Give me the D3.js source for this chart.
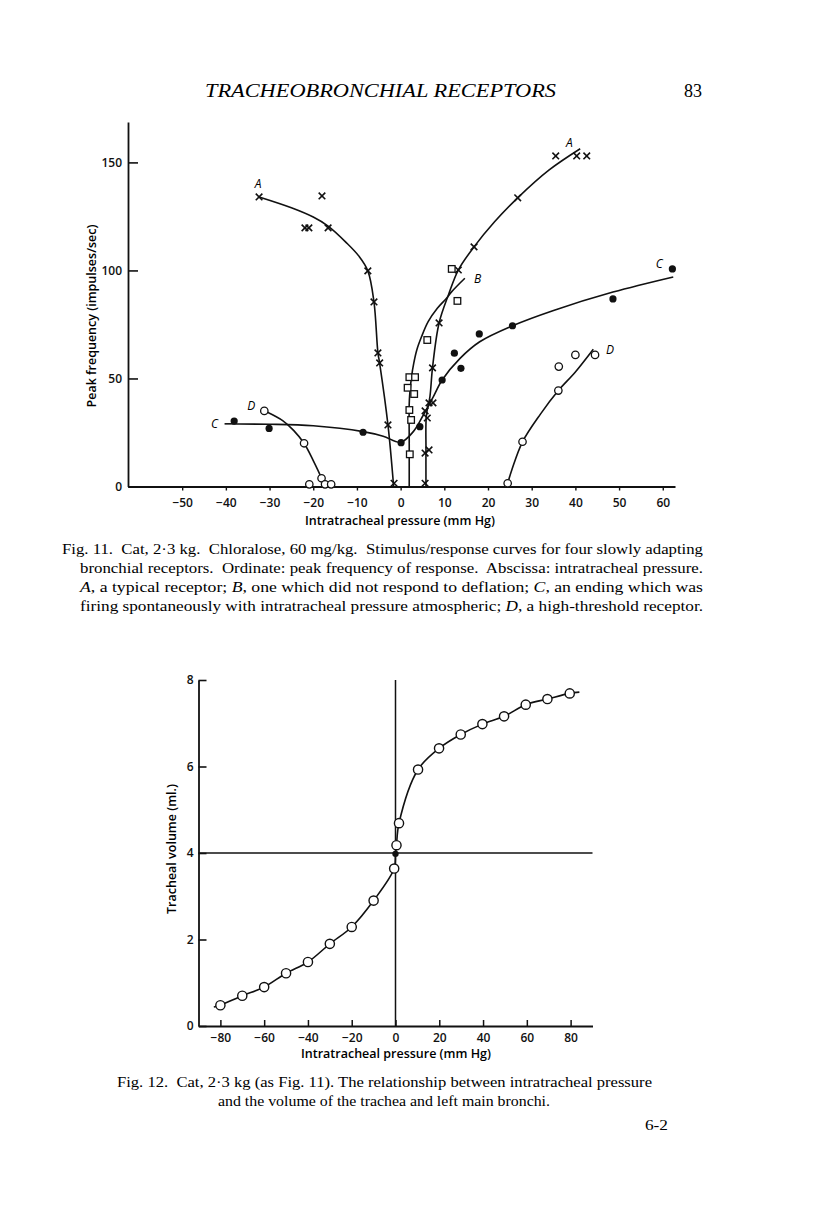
<!DOCTYPE html>
<html>
<head>
<meta charset="utf-8">
<script src="https://cdn.jsdelivr.net/npm/d3@7"></script>
<style>
  body { margin: 0; background: #fff; }
  svg { display: block; }
  .tick text { font-family: "Open Sans", "DejaVu Sans", sans-serif; font-weight: 600; font-size: 12px; fill: #111; }
  .axis path, .axis line { stroke: #111; }
</style>
</head>
<body>
<svg width="816" height="1218"></svg>
<script>
var svg = d3.select("svg");
svg.append("rect").attr("width", 816).attr("height", 1218).attr("fill", "#fff");

// ---- Fig. 11 data (pressure mm Hg, peak frequency impulses/sec)
var aPoints = [[-32.4,134],[-18,134.5],[-21.9,119.7],[-21,119.7],[-16.6,119.7],[-7.5,99.8],[-6.1,85.4],
  [-5.2,61.8],[-4.8,57.2],[-2.9,28.5],[-1.5,1.5],
  [5.6,1.5],[5.6,15.5],[6.5,16.9],[6.1,31.7],[5.6,35],[6.5,38.7],[7.4,38.7],[7.3,54.9],[8.8,75.7],
  [13.2,100.2],[16.8,110.9],[26.8,133.6],[35.5,153],[40.3,153],[42.6,153]];
var bPoints = [[11.7,100.7],[13.0,85.9],[6.1,67.8],[2.0,50.6],[3.3,50.6],[1.6,45.7],[3.1,42.8],[2.0,35.4],[2.4,30.8],[2.1,14.9]];
var cPoints = [[-38.1,30.3],[-30.1,26.9],[-8.6,25.1],[0.1,20.3],[4.4,27.7],[9.5,49.3],[12.3,61.7],[13.8,54.7],
  [18,70.6],[25.6,74.4],[48.6,86.8],[62.2,100.7]];
var dPoints = [[-31.2,35],[-22.1,20],[-18.1,3.8],[-20.9,1],[-17.3,1],[-15.9,1],
  [24.5,1.5],[27.9,20.7],[36.1,44.4],[36.2,55.5],[40,60.9],[44.5,60.9]];

// fitted curves as drawn in the figure
var aLeftCurve = [[-32.4,134],[-25,129],[-20,124.7],[-16.6,120.5],[-12.5,113],[-9.5,106.5],[-7.5,99.8],[-6.1,85.4],[-5.2,62],[-4.8,57],[-2.9,28.5],[-1.6,0]];
var aRightCurve = [[5.8,0],[5.8,17],[5.9,33],[6.7,41.5],[7.3,55],[8.8,75.7],[11,89],[13.2,100.2],[16.8,110.9],[21.5,122.5],[26.8,133.6],[34,146.5],[41.1,156.3]];
var bCurve = [[1.97,0],[1.97,20],[2.0,40],[2.5,50.8],[3.0,57],[3.7,63.2],[4.8,69.4],[6.3,76.3],[8.4,82.5],[10.5,87.1],[11.7,90.2],[14.7,96.4]];
var cCurve = [[-38.6,28.9],[-30,28.8],[-20,28.1],[-8.6,25.4],[-4,23.3],[0,20.5],[2.9,25.4],[5.2,33.1],[7.5,41.6],[9.5,49.3],
  [13.6,59.3],[18.1,67],[25.6,74.4],[35,81.5],[48.6,90],[62.4,97]];
var dLeftCurve = [[-30.7,34.6],[-27,30.5],[-24.5,26],[-22.1,20],[-20,12],[-18.1,3.8],[-17.4,0]];
var dRightCurve = [[24.3,0],[25.5,8],[27.9,20.7],[32,33.5],[36.1,44.4],[40,53],[44.1,63.5]];

var fig11XTicks = [-50,-40,-30,-20,-10,0,10,20,30,40,50,60];
var fig11YTicks = [0,50,100,150];
var seriesLabels = [["A",-32.6,140],["A",38.6,159],["B",17.6,96],["C",-42.6,29],["C",59.2,103],["D",-34.2,37.2],["D",47.9,63.3]];

// ---- Fig. 12 data (pressure mm Hg, tracheal volume ml.)
var pressure = [-80,-70,-60,-50,-40,-30,-20,-10,-0.6,0.45,1.6,10.3,19.9,29.8,39.7,49.6,59.5,69.4,79.6];
var volume = [0.48,0.70,0.90,1.22,1.48,1.90,2.29,2.90,3.64,4.18,4.69,5.93,6.42,6.74,6.98,7.16,7.43,7.56,7.69];
var restPoint = [0, 3.98];
var volumeCurveEnds = [[-83,0.44],[84,7.72]];
var fig12XTicks = [-80,-60,-40,-20,0,20,40,60,80];
var fig12YTicks = [0,2,4,6,8];

function fmt(d) { return d < 0 ? "\u2212" + (-d) : String(d); }
var sans = "'Open Sans', 'DejaVu Sans', sans-serif";
var serif = "'Liberation Serif', 'DejaVu Serif', serif";

// ---- page header
svg.append("text").attr("x", 205).attr("y", 97)
  .attr("textLength", 351).attr("lengthAdjust", "spacingAndGlyphs")
  .style("font-family", serif).style("font-style", "italic").style("font-size", "18px")
  .text("TRACHEOBRONCHIAL RECEPTORS");
svg.append("text").attr("x", 684).attr("y", 97)
  .style("font-family", serif).style("font-size", "18px").text("83");

// ================= Fig. 11 =================
var x1 = d3.scaleLinear().domain([-62.4, 62.8]).range([128, 675]);
var y1 = d3.scaleLinear().domain([0, 168.7]).range([486.5, 122]);

svg.append("g").attr("class", "axis")
  .attr("transform", "translate(0," + y1(0) + ")")
  .call(d3.axisBottom(x1).tickValues(fig11XTicks).tickFormat(fmt).tickSize(4).tickSizeOuter(0).tickPadding(8))
  .call(function(g) { g.select(".domain").attr("stroke-width", 1.8); g.selectAll(".tick line").attr("stroke-width", 1.4); });

svg.append("g").attr("class", "axis")
  .attr("transform", "translate(" + x1.range()[0] + ",0)")
  .call(d3.axisLeft(y1).tickValues(fig11YTicks).tickSize(-10).tickSizeOuter(0).tickPadding(6))
  .call(function(g) { g.select(".domain").attr("stroke-width", 1.8); g.selectAll(".tick line").attr("stroke-width", 1.6); });

svg.append("text").attr("x", 400).attr("y", 525).attr("text-anchor", "middle")
  .style("font-family", sans).style("font-weight", 600).style("font-size", "12.5px")
  .text("Intratracheal pressure (mm Hg)");
svg.append("text").attr("transform", "translate(96,316) rotate(-90)").attr("text-anchor", "middle")
  .style("font-family", sans).style("font-weight", 600).style("font-size", "12.5px")
  .text("Peak frequency (impulses/sec)");

var line1 = d3.line().x(function(d) { return x1(d[0]); }).y(function(d) { return y1(d[1]); })
  .curve(d3.curveCatmullRom.alpha(0.5));
[aLeftCurve, aRightCurve, bCurve, cCurve, dLeftCurve, dRightCurve].forEach(function(c) {
  svg.append("path").attr("d", line1(c)).attr("fill", "none").attr("stroke", "#111").attr("stroke-width", 1.6);
});

// C starts with a short dash after its label
svg.append("line").attr("x1", x1(-40.3)).attr("x2", x1(-38.6)).attr("y1", y1(29)).attr("y2", y1(29))
  .attr("stroke", "#111").attr("stroke-width", 1.6);

svg.selectAll(".crossA").data(aPoints).enter().append("path")
  .attr("transform", function(d) { return "translate(" + x1(d[0]) + "," + y1(d[1]) + ")"; })
  .attr("d", "M-3.3,-3.3L3.3,3.3M-3.3,3.3L3.3,-3.3")
  .attr("stroke", "#111").attr("stroke-width", 1.6).attr("fill", "none");

svg.selectAll(".sqB").data(bPoints).enter().append("rect")
  .attr("x", function(d) { return x1(d[0]) - 3.3; }).attr("y", function(d) { return y1(d[1]) - 3.3; })
  .attr("width", 6.6).attr("height", 6.6)
  .attr("fill", "#fff").attr("stroke", "#111").attr("stroke-width", 1.3);

svg.selectAll(".dotC").data(cPoints).enter().append("circle")
  .attr("cx", function(d) { return x1(d[0]); }).attr("cy", function(d) { return y1(d[1]); })
  .attr("r", 3.6).attr("fill", "#111");

svg.selectAll(".ringD").data(dPoints).enter().append("circle")
  .attr("cx", function(d) { return x1(d[0]); }).attr("cy", function(d) { return y1(d[1]); })
  .attr("r", 3.7).attr("fill", "#fff").attr("stroke", "#111").attr("stroke-width", 1.3);

svg.selectAll(".slabel").data(seriesLabels).enter().append("text")
  .attr("x", function(d) { return x1(d[1]); }).attr("y", function(d) { return y1(d[2]); })
  .attr("text-anchor", "middle").attr("dy", "0.35em")
  .style("font-family", sans).style("font-style", "italic").style("font-size", "12px")
  .text(function(d) { return d[0]; });

// caption Fig. 11 (justified lines)
var cap11 = [
  {x: 62, y: 554, w: 641, parts: [["Fig. 11.", "normal"], ["  Cat, 2\u00b73 kg.  Chloralose, 60 mg/kg.  Stimulus/response curves for four slowly adapting", "normal"]]},
  {x: 80, y: 573, w: 623, parts: [["bronchial receptors.  Ordinate: peak frequency of response.  Abscissa: intratracheal pressure.", "normal"]]},
  {x: 80, y: 592, w: 623, parts: [["A", "italic"], [", a typical receptor; ", "normal"], ["B", "italic"], [", one which did not respond to deflation; ", "normal"], ["C", "italic"], [", an ending which was", "normal"]]},
  {x: 80, y: 611, w: 623, parts: [["firing spontaneously with intratracheal pressure atmospheric; ", "normal"], ["D", "italic"], [", a high-threshold receptor.", "normal"]]}
];
var cap12 = [
  {x: 117, y: 1087, w: 535, parts: [["Fig. 12.  Cat, 2\u00b73 kg (as Fig. 11). The relationship between intratracheal pressure", "normal"]]},
  {x: 218, y: 1106, w: 332, parts: [["and the volume of the trachea and left main bronchi.", "normal"]]},
  {x: 645, y: 1130, w: 23, parts: [["6-2", "normal"]]}
];
function caption(lines) {
  lines.forEach(function(l) {
    var t = svg.append("text").attr("x", l.x).attr("y", l.y)
      .attr("textLength", l.w).attr("lengthAdjust", "spacingAndGlyphs")
      .style("font-family", serif).style("font-size", "15.5px").style("white-space", "pre").attr("xml:space", "preserve");
    l.parts.forEach(function(p) { t.append("tspan").style("font-style", p[1]).text(p[0]); });
  });
}
caption(cap11);

// ================= Fig. 12 =================
var x2 = d3.scaleLinear().domain([-90, 90]).range([198.5, 592.5]);
var y2 = d3.scaleLinear().domain([0, 8]).range([1026, 680]);

svg.append("g").attr("class", "axis")
  .attr("transform", "translate(0," + y2(0) + ")")
  .call(d3.axisBottom(x2).tickValues(fig12XTicks).tickFormat(fmt).tickSize(-6).tickSizeOuter(0).tickPadding(7))
  .call(function(g) { g.select(".domain").attr("stroke-width", 1.8); g.selectAll(".tick line").attr("stroke-width", 1.5); });

svg.append("g").attr("class", "axis")
  .attr("transform", "translate(" + x2.range()[0] + ",0)")
  .call(d3.axisLeft(y2).tickValues(fig12YTicks).tickSize(-8).tickSizeOuter(0).tickPadding(5))
  .call(function(g) { g.select(".domain").attr("stroke-width", 1.8); g.selectAll(".tick line").attr("stroke-width", 1.6); });

// reference lines at zero pressure and resting volume
svg.append("line").attr("x1", x2(0)).attr("x2", x2(0)).attr("y1", y2(8)).attr("y2", y2(0))
  .attr("stroke", "#111").attr("stroke-width", 1.5);
svg.append("line").attr("x1", x2(-90)).attr("x2", x2(90)).attr("y1", y2(4)).attr("y2", y2(4))
  .attr("stroke", "#111").attr("stroke-width", 1.5);

svg.append("text").attr("x", 396).attr("y", 1058).attr("text-anchor", "middle")
  .style("font-family", sans).style("font-weight", 600).style("font-size", "12.5px")
  .text("Intratracheal pressure (mm Hg)");
svg.append("text").attr("transform", "translate(176,849) rotate(-90)").attr("text-anchor", "middle")
  .style("font-family", sans).style("font-weight", 600).style("font-size", "12.5px")
  .text("Tracheal volume (ml.)");

var volPts = pressure.map(function(p, i) { return [p, volume[i]]; });
var volCurve = [volumeCurveEnds[0]].concat(volPts.slice(0, 9), [restPoint], volPts.slice(9), [volumeCurveEnds[1]]);
var line2 = d3.line().x(function(d) { return x2(d[0]); }).y(function(d) { return y2(d[1]); })
  .curve(d3.curveCatmullRom.alpha(0.5));
svg.append("path").attr("d", line2(volCurve)).attr("fill", "none").attr("stroke", "#111").attr("stroke-width", 1.6);

svg.append("circle").attr("cx", x2(restPoint[0])).attr("cy", y2(restPoint[1])).attr("r", 3.2).attr("fill", "#111");
svg.selectAll(".ringV").data(volPts).enter().append("circle")
  .attr("cx", function(d) { return x2(d[0]); }).attr("cy", function(d) { return y2(d[1]); })
  .attr("r", 4.6).attr("fill", "#fff").attr("stroke", "#111").attr("stroke-width", 1.4);

caption(cap12);
</script>
</body>
</html>
